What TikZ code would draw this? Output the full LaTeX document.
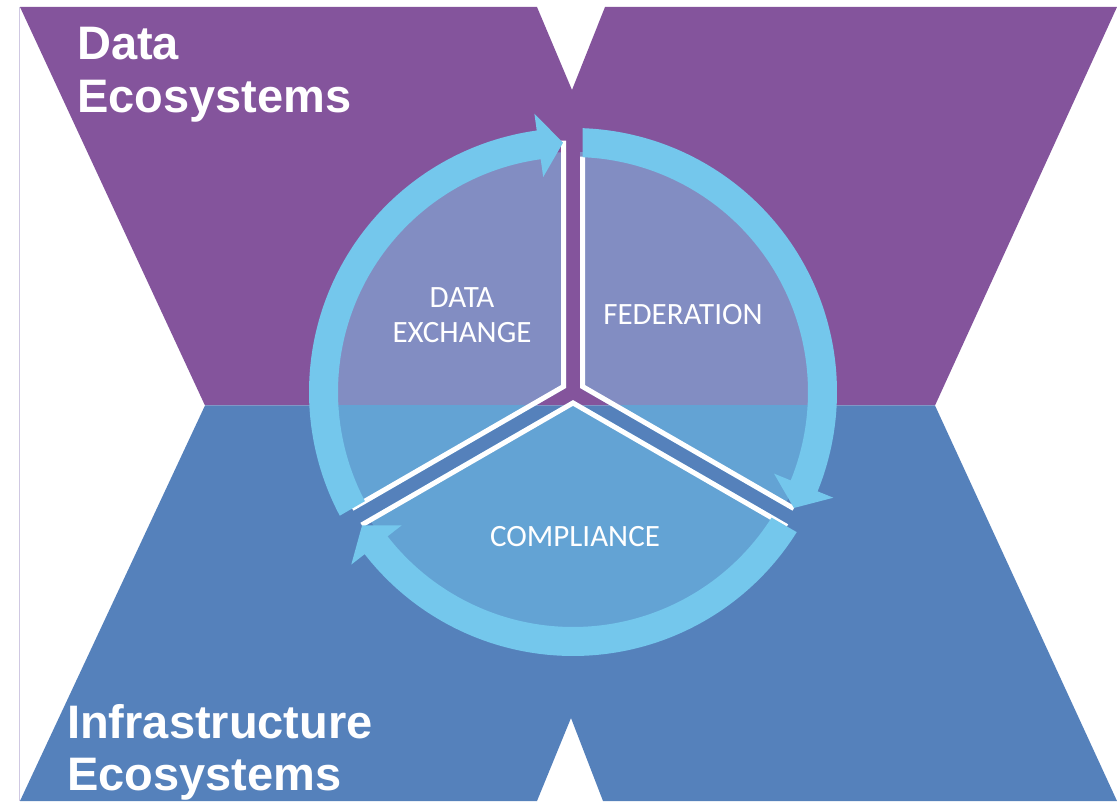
\documentclass[tikz,border=0pt]{standalone}
\usepackage{fontspec}
\setmainfont{Liberation Sans}
\newfontfamily\calfont{Carlito}
\usetikzlibrary{calc}
\definecolor{purpleX}{HTML}{84549C}
\definecolor{blueX}{HTML}{5581BB}
\definecolor{ringC}{HTML}{74C7EC}
\definecolor{secTop}{HTML}{828DC2}
\definecolor{secBot}{HTML}{63A3D4}
\definecolor{edgeC}{HTML}{CFC8E2}
\begin{document}
\begin{tikzpicture}[x=1pt,y=1pt,
  whiteedge/.style={draw=white, line width=5pt, line join=miter},
  titletext/.style={anchor=base west, inner sep=0pt, text=white, font=\fontsize{47}{50}\selectfont\bfseries},
  lbl/.style={anchor=base, inner sep=0pt, text=white, font=\calfont\fontsize{31}{35}\selectfont}]
\useasboundingbox (0,0) rectangle (1117,801);
\fill[white] (0,0) rectangle (1117,801);
% background X shape
\fill[purpleX] (20,794) -- (537,794) -- (572,711) -- (605,794) -- (1117,794) -- (935,395.5) -- (205,395.5) -- cycle;
\fill[blueX] (205,395.5) -- (935,395.5) -- (1117,0) -- (603,0) -- (571,83) -- (537,0) -- (20,0) -- cycle;
\draw[edgeC, line width=1pt] (19.5,0) -- (19.5,794);
\coordinate (C) at (573,409);
% sectors
\foreach \a in {90,210,-30} {
  \begin{scope}
    \clip (C) circle[radius=240];
    \clip ($(C)+({\a+60}:8.08)$) -- ++(\a:500) -- ($(C)+({\a+60}:1000)$) -- ($(C)+({\a+60}:8.08)+({\a+120}:500)$) -- cycle;
    \fill[secTop] (0,395.5) rectangle (1117,801);
    \fill[secBot] (0,0) rectangle (1117,395.5);
  \end{scope}
}
% white edges of the sectors
\foreach \a/\La/\Lb in {90/246/244, 210/244/247, -30/244/230} {
  \draw[whiteedge] ($(C)+({\a+60}:10.97)+(\a:\La)$) -- ($(C)+({\a+60}:10.97)$) -- ($(C)+({\a+60}:10.97)+({\a+120}:\Lb)$);
}
% ring arrows
\foreach \s in {210,90,-30} {
  \pgfmathsetmacro\st{\s-asin(9.5/264)}
  \pgfmathsetmacro\sti{\s-asin(9.5/235)}
  \pgfmathsetmacro\tp{\s-120+asin(10/249.5)}
  \pgfmathsetmacro\bs{\tp+5.6}
  \fill[ringC] ($(C)+(\st:264)$) arc[start angle=\st, end angle=\bs, radius=264]
    -- ($(C)+(\bs:281)$) -- ($(C)+(\tp:249.5)$) -- ($(C)+(\bs:217)$) -- ($(C)+(\bs:235)$)
    arc[start angle=\bs, end angle=\sti, radius=235] -- cycle;
}
% labels
\node[lbl] (dx1) at (462,493) {DATA};
\node[lbl] (dx2) at (462,458) {EXCHANGE};
\node[lbl] (fed) at (683,476) {FEDERATION};
\node[lbl] (comp) at (575,254) {COMPLIANCE};
% titles
\node[titletext] (t1) at (77,741) {Data};
\node[titletext] (t2) at (77,688) {Ecosystems};
\node[titletext] (t3) at (67,63) {Infrastructure};
\node[titletext] (t4) at (67,10) {Ecosystems};
\end{tikzpicture}
\end{document}
